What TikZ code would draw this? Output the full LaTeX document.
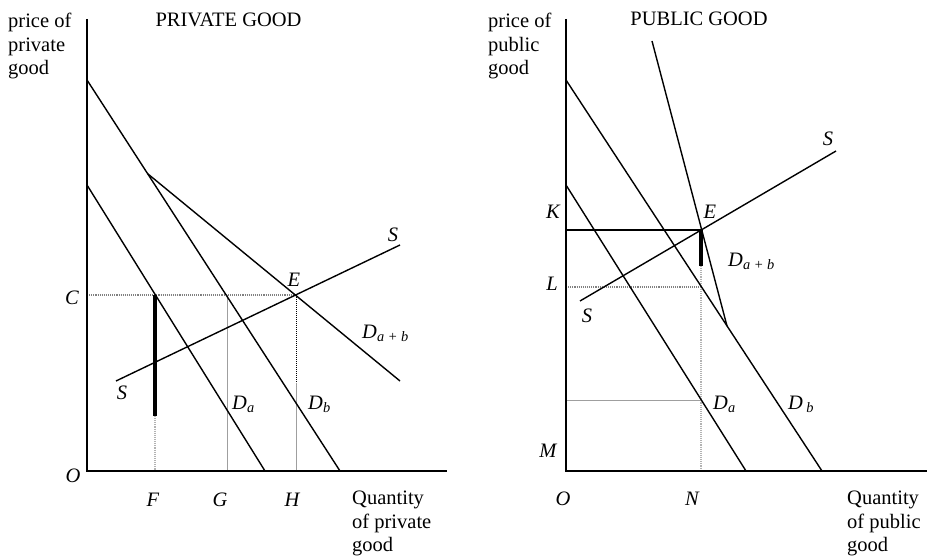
\documentclass[tikz,border=0pt]{standalone}
\usepackage{fontspec}
\setmainfont{Liberation Serif}
\usetikzlibrary{positioning}

\begin{document}
\fontsize{20.5}{23.6}\selectfont
\spaceskip=8pt plus 1pt minus 1pt
\begin{tikzpicture}[
    x=1pt,y=1pt,
    axis/.style={line width=2pt},
    curve/.style={line width=1.4pt},
    share/.style={line width=3.6pt},
    guide/.style={line width=0.8pt,gray!75},
    dotguide/.style={line width=1.1pt,gray,densely dotted},
    lbl/.style={inner sep=0pt,font=\itshape},
    caption/.style={inner sep=0pt,align=left,anchor=north west}
  ]
  \useasboundingbox (-87,-88) rectangle (841,471);

  % Private good
  \coordinate (O1) at (0,0);
  \coordinate (ytop1) at (0,452);
  \coordinate (xend1) at (360,0);
  \coordinate (dbtop1) at (0,391);
  \coordinate (dbfoot1) at (253,0);
  \coordinate (datop1) at (0,286);
  \coordinate (dafoot1) at (178,0);
  \coordinate (kink1) at (61,297);
  \coordinate (dabend1) at (313,90);
  \coordinate (slow1) at (29,90);
  \coordinate (shigh1) at (313,226);
  \coordinate (E1) at (209,176);
  \coordinate (C1) at (0,176);
  \coordinate (Ftop) at (68,176);
  \coordinate (Fmid) at (68,55);
  \coordinate (Fbot) at (68,0);
  \coordinate (Gtop) at (140,176);
  \coordinate (Gbot) at (140,0);
  \coordinate (Hmid) at (209,88);
  \coordinate (Hbot) at (209,0);

  \draw[dotguide] (C1) -- (E1);
  \draw[guide] (Gtop) -- (Gbot);
  \draw[guide] (Hmid) -- (Hbot);
  \draw[line width=1pt,densely dotted] (E1) -- (Hmid);
  \draw[dotguide,gray!60] (Fmid) -- (Fbot);
  \draw[share] (Ftop) -- (Fmid);

  \draw[curve] (dbtop1) -- (dbfoot1);
  \draw[curve] (datop1) -- (dafoot1);
  \draw[curve] (kink1) -- (dabend1);
  \draw[curve] (slow1) -- (shigh1);
  \draw[axis] (ytop1) -- (O1) -- (xend1);

  \node[caption] (pricepriv) at (-79,458) {price of\\private\\good};
  \node[inner sep=0pt,anchor=base] (titlepriv) at (141.5,444.3) {PRIVATE GOOD};
  \node[caption] (qtypriv) at (265,-20) {Quantity\\of private\\good};
  \node[lbl] (lC) at (-15,173) {C};
  \node[lbl] (lO1) at (-14,-5) {O};
  \node[lbl] (lF) at (66,-29) {F};
  \node[lbl] (lG) at (133,-29) {G};
  \node[lbl] (lH) at (205,-29) {H};
  \node[lbl] (lSlow1) at (35,78) {S};
  \node[lbl] (lShigh1) at (306,236) {S};
  \node[lbl] (lE1) at (207,191) {E};
  \node[lbl,anchor=west] (lDab1) at (275,138) {D\textsubscript{a + b}};
  \node[lbl,anchor=west] (lDa1) at (145,67) {D\textsubscript{a}};
  \node[lbl,anchor=west] (lDb1) at (221,67) {D\textsubscript{b}};

  % Public good
  \begin{scope}[shift={(479,0)}]
    \coordinate (O2) at (0,0);
    \coordinate (ytop2) at (0,452);
    \coordinate (xend2) at (361,0);
    \coordinate (dbtop2) at (0,391);
    \coordinate (dbfoot2) at (256,0);
    \coordinate (datop2) at (0,286);
    \coordinate (dafoot2) at (180,0);
    \coordinate (dabtop2) at (86,430);
    \coordinate (kink2) at (161,145);
    \coordinate (slow2) at (14,170);
    \coordinate (shigh2) at (270,320);
    \coordinate (E2) at (135,241);
    \coordinate (K) at (0,241);
    \coordinate (L) at (0,184);
    \coordinate (Lend) at (135,184);
    \coordinate (Mlev) at (0,71);
    \coordinate (Mend) at (135,71);
    \coordinate (Nmid) at (135,205);
    \coordinate (Nbot) at (135,0);

    \draw[dotguide] (L) -- (Lend);
    \draw[guide] (Mlev) -- (Mend);
    \draw[dotguide,gray!60] (Nmid) -- (Nbot);
    \draw[share] (E2) -- (Nmid);

    \draw[curve] (dbtop2) -- (dbfoot2);
    \draw[curve] (datop2) -- (dafoot2);
    \draw[curve] (dabtop2) -- (kink2);
    \draw[curve] (slow2) -- (shigh2);
    \draw[curve] (K) -- (E2);
    \draw[axis] (ytop2) -- (O2) -- (xend2);

    \node[caption] (pricepub) at (-78,458) {price of\\public\\good};
    \node[inner sep=0pt,anchor=base] (titlepub) at (133,445.7) {PUBLIC GOOD};
    \node[caption] (qtypub) at (281,-20) {Quantity\\of public\\good};
    \node[lbl] (lK) at (-13,259) {K};
    \node[lbl] (lL) at (-14,187) {L};
    \node[lbl] (lM) at (-18,20) {M};
    \node[lbl] (lO2) at (-3,-28) {O};
    \node[lbl] (lN) at (126,-28) {N};
    \node[lbl] (lE2) at (144,259) {E};
    \node[lbl] (lSlow2) at (21,155) {S};
    \node[lbl] (lShigh2) at (262,332) {S};
    \node[lbl,anchor=west] (lDab2) at (162,210) {D\textsubscript{a + b}};
    \node[lbl,anchor=west] (lDa2) at (147,67) {D\textsubscript{a}};
    \node[lbl,anchor=west] (lDb2) at (222,67) {D\,\textsubscript{b}};
  \end{scope}
\end{tikzpicture}
\end{document}
